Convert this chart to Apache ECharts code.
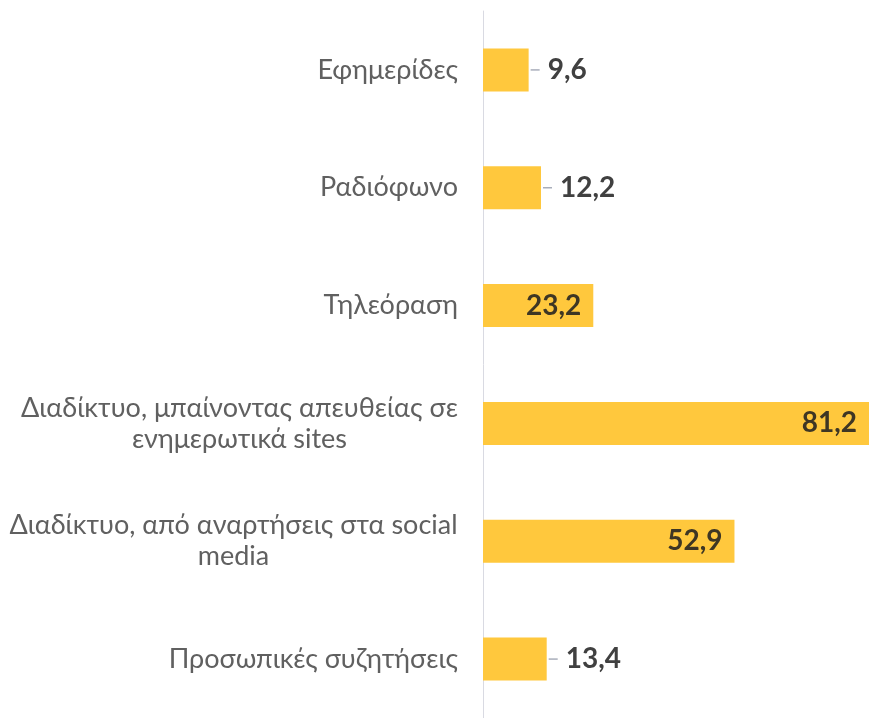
<!DOCTYPE html>
<html>
<head>
<meta charset="utf-8">
<script src="https://cdn.jsdelivr.net/npm/echarts@6/dist/echarts.min.js"></script>
<style>
  html, body { margin: 0; padding: 0; background: #fff; }
  #chart { width: 869px; height: 718px; }
</style>
</head>
<body>
<div id="chart"></div>
<script>
// κατηγορίες (από πάνω προς τα κάτω)
const categories = [
  'Εφημερίδες',
  'Ραδιόφωνο',
  'Τηλεόραση',
  'Διαδίκτυο, μπαίνοντας απευθείας σε\nενημερωτικά sites',
  'Διαδίκτυο, από αναρτήσεις στα social\nmedia',
  'Προσωπικές συζητήσεις'
];
const values = [9.6, 12.2, 23.2, 81.2, 52.9, 13.4];

const FONT = 'Lato, "Noto Sans", sans-serif';
const catSize = 27;

// πλάτος κειμένου για κεντράρισμα των γραμμών
const ctx = document.createElement('canvas').getContext('2d');
ctx.font = catSize + 'px ' + FONT;
const rich = { r: { align: 'right' } };
categories.forEach((c, i) => {
  const lines = c.split('\n');
  if (lines.length > 1) {
    const w = Math.max(...lines.map(l => ctx.measureText(l).width));
    rich['c' + i] = { width: Math.ceil(w), align: 'center' };
  }
});

const fmt = v => String(v).replace('.', ',');

const chart = echarts.init(document.getElementById('chart'));
const option = {
  animation: false,
  grid: { left: 483, right: 0, top: 11, height: 711 },
  xAxis: {
    type: 'value',
    min: 0,
    max: 81.2,
    show: false
  },
  yAxis: {
    type: 'category',
    inverse: true,
    data: categories,
    axisLine: { show: true, lineStyle: { color: '#D9DAE2', width: 1 } },
    axisTick: { show: false },
    axisLabel: {
      margin: 25,
      color: '#606060',
      fontFamily: FONT,
      fontSize: catSize,
      lineHeight: 31,
      formatter: (val) => {
        const lines = val.split('\n');
        if (lines.length > 1) {
          const i = categories.indexOf(val);
          return lines.map(l => '{c' + i + '|' + l + '}').join('\n');
        }
        return '{r|' + val + '}';
      },
      rich: rich
    }
  },
  series: [{
    type: 'bar',
    barWidth: 43,
    itemStyle: { color: '#FFC83D' },
    data: values.map(v => {
      const inside = v > 20;
      return {
        value: v,
        label: inside ? {
          show: true,
          position: 'insideRight',
          distance: 12,
          formatter: fmt(v),
          color: '#3E3624',
          fontFamily: FONT,
          fontWeight: 'bold',
          fontSize: 28
        } : {
          show: true,
          position: 'right',
          distance: 2,
          formatter: '{l|}{v|' + fmt(v) + '}',
          rich: {
            l: { width: 9, height: 1.5, backgroundColor: '#A9AEBB', verticalAlign: 'middle' },
            v: {
              padding: [0, 0, 0, 8],
              color: '#404040',
              fontFamily: FONT,
              fontWeight: 'bold',
              fontSize: 28
            }
          }
        }
      };
    })
  }]
};
chart.setOption(option);
</script>
</body>
</html>
